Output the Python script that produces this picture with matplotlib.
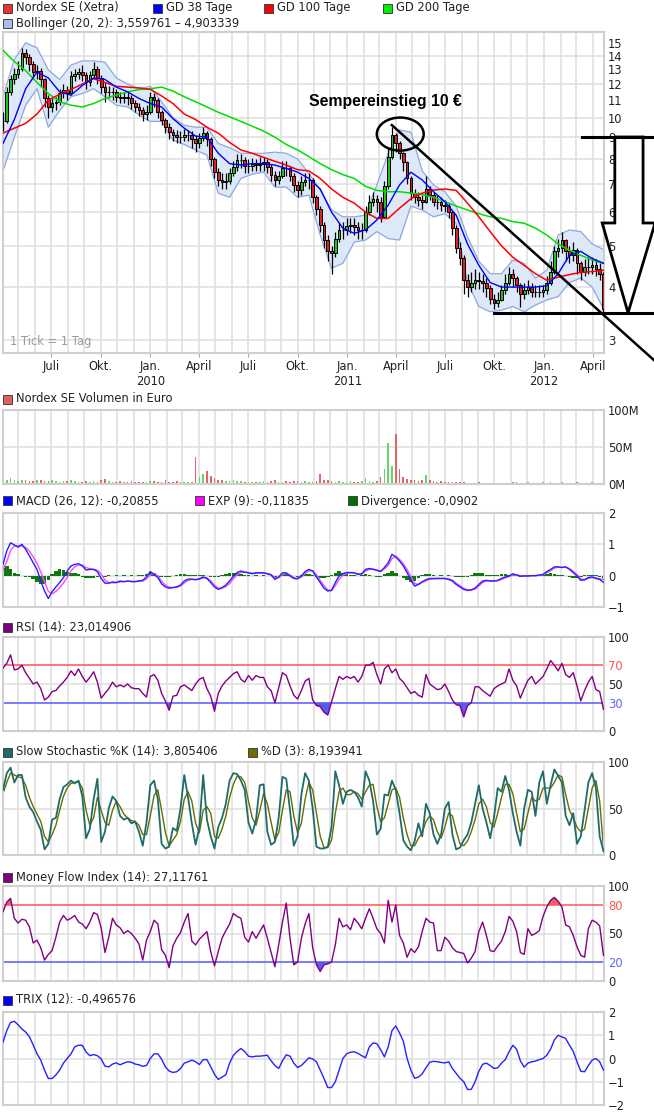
import matplotlib as mpl
mpl.use('Agg')
import matplotlib.pyplot as plt
import matplotlib.dates as mdates
from matplotlib.patches import Rectangle, Ellipse, Polygon
from matplotlib.ticker import FuncFormatter, NullLocator
import numpy as np
import pandas as pd

W, H = 654, 1116

# Nordex SE (Xetra), weekly closes Apr 2009 - Apr 2012
close = [9.8, 11.5, 12.3, 12.7, 13.0, 14.2, 13.9, 13.4, 12.8, 12.9,
         12.3, 11.1, 10.6, 10.8, 10.9, 11.4, 11.6, 11.4, 12.5, 12.7,
         12.8, 12.6, 12.1, 12.6, 13.0, 12.4, 11.8, 11.5, 11.5, 11.5,
         11.2, 11.1, 11.2, 11.1, 10.8, 10.6, 10.4, 10.2, 10.3, 11.2,
         11.0, 10.3, 9.9, 9.5, 9.25, 9.1, 9.0, 9.0, 9.1, 9.1,
         8.9, 8.7, 8.95, 9.2, 8.9, 8.0, 7.45, 7.14, 7.05, 7.1,
         7.4, 7.65, 7.95, 7.95, 7.7, 7.7, 7.8, 7.75, 7.8, 7.85,
         7.66, 7.35, 7.15, 7.3, 7.62, 7.6, 7.3, 6.95, 6.76, 7.05,
         7.15, 7.15, 6.5, 6.1, 5.6, 5.15, 4.85, 4.8, 5.2, 5.45,
         5.45, 5.58, 5.6, 5.55, 5.45, 5.45, 6.0, 6.35, 6.45, 6.35,
         5.85, 6.9, 8.1, 9.1, 8.7, 8.25, 7.85, 7.2, 6.65, 6.5,
         6.4, 6.35, 6.8, 6.6, 6.35, 6.35, 6.23, 6.2, 6.0, 5.5,
         4.95, 4.68, 4.15, 4.0, 4.1, 4.15, 4.13, 4.08, 3.97, 3.76,
         3.67, 3.73, 3.93, 4.1, 4.3, 4.2, 4.05, 3.85, 3.93, 4.0,
         3.9, 3.9, 3.9, 3.94, 4.1, 4.35, 4.85, 4.95, 5.15, 4.85,
         4.77, 4.88, 4.55, 4.33, 4.45, 4.45, 4.5, 4.42, 4.3, 3.56]
high = [10.3, 11.8, 12.6, 13.1, 13.6, 14.6, 14.5, 14.1, 13.6, 13.3,
        13.1, 12.4, 11.3, 11.1, 11.2, 11.7, 12.0, 11.9, 12.9, 13.0,
        13.1, 13.3, 12.8, 12.9, 13.5, 13.2, 12.6, 12.1, 11.9, 11.8,
        11.7, 11.5, 11.5, 11.5, 11.3, 11.0, 10.8, 10.6, 10.7, 11.5,
        11.4, 11.1, 10.4, 10.0, 9.7, 9.4, 9.35, 9.3, 9.4, 9.35,
        9.3, 9.1, 9.2, 9.5, 9.3, 9.0, 8.1, 7.6, 7.4, 7.4,
        7.6, 7.9, 8.2, 8.2, 8.1, 8.0, 8.05, 8.0, 8.1, 8.1,
        8.0, 7.8, 7.5, 7.5, 7.9, 7.9, 7.7, 7.4, 7.1, 7.3,
        7.4, 7.4, 7.2, 6.6, 6.2, 5.7, 5.3, 5.0, 5.4, 5.65,
        5.7, 5.8, 5.8, 5.8, 5.7, 5.65, 6.2, 6.6, 6.7, 6.6,
        6.5, 7.1, 8.5, 9.5, 9.2, 8.8, 8.3, 7.9, 7.3, 6.8,
        6.7, 6.6, 7.3, 6.9, 6.7, 6.6, 6.5, 6.4, 6.3, 6.05,
        5.6, 5.1, 4.75, 4.3, 4.35, 4.4, 4.35, 4.3, 4.2, 4.05,
        3.85, 3.9, 4.05, 4.3, 4.45, 4.4, 4.25, 4.1, 4.1, 4.15,
        4.1, 4.05, 4.05, 4.05, 4.25, 4.6, 5.0, 5.2, 5.4, 5.2,
        5.0, 5.1, 4.95, 4.6, 4.65, 4.7, 4.7, 4.65, 4.55, 4.35]
low = [9.3, 9.7, 11.3, 12.0, 12.4, 12.9, 13.4, 12.9, 12.3, 12.3,
       11.8, 10.6, 10.0, 10.3, 10.4, 10.7, 11.1, 11.0, 11.3, 12.2,
       12.3, 12.2, 11.7, 11.9, 12.4, 12.0, 11.4, 10.9, 11.1, 11.0,
       10.9, 10.8, 10.8, 10.7, 10.5, 10.3, 10.1, 9.8, 9.9, 10.2,
       10.6, 10.0, 9.6, 9.2, 8.9, 8.8, 8.7, 8.7, 8.8, 8.8,
       8.5, 8.3, 8.5, 8.8, 8.6, 7.7, 7.2, 6.9, 6.8, 6.8,
       7.0, 7.3, 7.5, 7.6, 7.4, 7.4, 7.5, 7.5, 7.5, 7.5,
       7.4, 7.1, 6.9, 7.0, 7.2, 7.3, 7.1, 6.7, 6.5, 6.6,
       6.9, 6.8, 6.3, 5.9, 5.4, 4.95, 4.6, 4.3, 4.7, 5.1,
       5.2, 5.3, 5.35, 5.3, 5.2, 5.2, 5.4, 5.9, 6.2, 6.0,
       5.7, 5.8, 6.8, 8.0, 8.3, 8.0, 7.5, 7.0, 6.4, 6.3,
       6.2, 6.1, 6.3, 6.4, 6.2, 6.1, 6.05, 6.0, 5.8, 5.3,
       4.8, 4.5, 3.85, 3.8, 3.9, 3.95, 3.95, 3.9, 3.8, 3.65,
       3.55, 3.6, 3.7, 3.85, 4.05, 4.0, 3.9, 3.6, 3.75, 3.85,
       3.8, 3.8, 3.8, 3.8, 3.85, 4.05, 4.3, 4.7, 4.8, 4.6,
       4.55, 4.6, 4.3, 4.15, 4.25, 4.3, 4.3, 4.25, 4.15, 3.5]

# moving averages and Bollinger band, read every third week
gd38 = [8.7, 9.9, 11.7, 12.8, 12.4, 11.5, 11.3, 11.9, 12.4, 12.3,
        11.8, 11.5, 11.1, 10.8, 10.6, 9.95, 9.45, 9.05, 9.0, 8.25,
        7.8, 7.74, 7.8, 7.8, 7.74, 7.6, 7.45, 7.2, 6.8, 6.0,
        5.5, 5.35, 5.45, 5.75, 6.23, 6.95, 7.45, 7.14, 6.7, 6.35,
        5.9, 5.05, 4.5, 4.1, 4.0, 4.0, 4.0, 4.0, 4.03, 4.3,
        4.75, 4.85, 4.67, 4.55]
gd100 = [9.2, 9.45, 9.7, 10.2, 11.0, 11.35, 11.65, 12.0, 12.35, 12.1,
         11.85, 11.8, 11.75, 11.65, 11.25, 10.8, 10.2, 9.9, 9.5, 9.2,
         8.75, 8.4, 8.25, 8.07, 7.9, 7.74, 7.55, 7.5, 7.2, 6.8,
         6.5, 6.3, 6.0, 5.8, 5.8, 6.13, 6.45, 6.65, 6.76, 6.8,
         6.75, 6.3, 5.85, 5.4, 5.0, 4.7, 4.5, 4.3, 4.15, 4.22,
         4.28, 4.33, 4.35, 4.38]
gd200 = [14.4, 13.55, 12.9, 12.1, 11.4, 10.9, 10.7, 10.6, 10.8, 11.1,
         11.3, 11.5, 11.65, 11.7, 11.8, 11.55, 11.2, 10.9, 10.6, 10.3,
         10.05, 9.8, 9.55, 9.3, 9.0, 8.65, 8.4, 8.1, 7.8, 7.55,
         7.35, 7.2, 6.9, 6.75, 6.7, 6.7, 6.65, 6.6, 6.5, 6.35,
         6.2, 6.07, 5.95, 5.85, 5.8, 5.7, 5.65, 5.5, 5.3, 5.05,
         4.88, 4.75, 4.63, 4.55]
boll_up = [11.2, 13.7, 15.0, 14.6, 12.95, 12.3, 13.3, 13.6, 13.6, 13.5,
           12.4, 12.0, 11.7, 11.85, 10.9, 10.0, 9.6, 9.5, 9.5, 8.7,
           8.5, 8.25, 8.25, 8.25, 8.3, 8.25, 8.0, 7.4, 6.76, 6.07,
           5.85, 5.85, 5.9, 6.95, 8.25, 9.36, 9.25, 7.5, 6.95, 6.7,
           6.2, 5.25, 4.6, 4.3, 4.3, 4.63, 4.55, 4.2, 4.38, 5.3,
           5.45, 5.4, 5.05, 4.9]
boll_lo = [7.5, 9.0, 10.7, 11.7, 9.5, 10.4, 11.2, 11.4, 11.7, 11.2,
           10.7, 10.6, 10.15, 9.8, 9.8, 8.86, 8.65, 8.4, 8.17, 6.65,
           6.5, 7.2, 7.37, 7.45, 6.87, 6.87, 6.5, 6.58, 5.3, 4.43,
           4.55, 5.1, 5.16, 5.4, 5.2, 5.16, 6.2, 6.07, 5.85, 5.95,
           5.65, 4.1, 3.6, 3.5, 3.53, 3.6, 3.5, 3.63, 3.73, 3.8,
           4.1, 4.2, 4.0, 3.56]

# volume in Mio. Euro
volume = [6, 5, 8, 5, 4, 6, 5, 4, 4, 5,
          5, 4, 4, 5, 4, 3, 4, 4, 5, 4,
          3, 3, 4, 3, 4, 3, 5, 7, 4, 3,
          3, 4, 3, 3, 4, 3, 3, 3, 3, 4,
          4, 3, 3, 5, 3, 3, 4, 3, 3, 3,
          3, 37, 10, 14, 18, 11, 8, 6, 5, 4,
          4, 5, 4, 4, 3, 3, 3, 3, 3, 4,
          3, 4, 6, 3, 3, 4, 3, 4, 4, 3,
          4, 3, 3, 4, 14, 6, 5, 4, 3, 4,
          3, 3, 4, 3, 3, 4, 8, 4, 3, 4,
          10, 20, 55, 25, 68, 20, 9, 7, 5, 5,
          4, 6, 12, 5, 4, 3, 4, 3, 3, 3,
          3, 3, 3, 2, 2, 2, 3, 2, 2, 2,
          2, 2, 2, 2, 2, 3, 3, 2, 2, 3,
          2, 2, 2, 3, 2, 3, 2, 2, 3, 2,
          2, 2, 3, 2, 2, 2, 3, 2, 2, 5]

macd = [0.36, 0.79, 1.05, 0.98, 0.91, 1.0, 0.84, 0.63, 0.41, 0.2,
        -0.17, -0.49, -0.73, -0.51, -0.36, -0.22, -0.06, 0.15, 0.31, 0.36,
        0.38, 0.31, 0.18, 0.2, 0.2, 0.13, -0.09, -0.24, -0.24, -0.2,
        -0.22, -0.17, -0.19, -0.17, -0.19, -0.19, -0.17, -0.15, -0.04, 0.13,
        0.04, -0.06, -0.26, -0.36, -0.4, -0.38, -0.36, -0.3, -0.17, -0.11,
        -0.11, -0.13, -0.1, -0.04, -0.09, -0.22, -0.36, -0.44, -0.38, -0.3,
        -0.17, -0.02, 0.1, 0.15, 0.11, 0.09, 0.06, 0.09, 0.09, 0.09,
        0.06, 0.02, -0.12, -0.04, 0.09, 0.09, -0.01, -0.09, -0.1, -0.01,
        0.13, 0.2, 0.15, -0.04, -0.22, -0.4, -0.49, -0.47, -0.22, -0.01,
        0.07, 0.1, 0.1, 0.09, 0.04, 0.06, 0.2, 0.23, 0.2, 0.17,
        0.13, 0.26, 0.41, 0.68, 0.6, 0.47, 0.31, 0.1, -0.15, -0.33,
        -0.28, -0.19, -0.13, -0.09, -0.09, -0.09, -0.09, -0.09, -0.12, -0.17,
        -0.28, -0.36, -0.44, -0.47, -0.45, -0.4, -0.28, -0.17, -0.15, -0.17,
        -0.17, -0.15, -0.09, -0.04, -0.01, 0.06, 0.02, -0.02, -0.01, -0.01,
        0.0, 0.0, 0.02, 0.04, 0.13, 0.2, 0.28, 0.28, 0.26, 0.28,
        0.2, 0.1, -0.01, -0.15, -0.13, -0.06, -0.04, -0.09, -0.12, -0.21]
macd_exp = [0.2, 0.45, 0.8, 0.95, 0.95, 0.95, 0.9, 0.78, 0.6, 0.4,
            0.12, -0.2, -0.5, -0.58, -0.5, -0.38, -0.24, -0.05, 0.15, 0.28,
            0.34, 0.34, 0.26, 0.22, 0.2, 0.17, 0.05, -0.14, -0.22, -0.23,
            -0.22, -0.2, -0.19, -0.18, -0.18, -0.19, -0.18, -0.17, -0.1, 0.02,
            0.07, 0.0, -0.18, -0.3, -0.37, -0.38, -0.37, -0.33, -0.23, -0.15,
            -0.12, -0.12, -0.12, -0.07, -0.07, -0.16, -0.3, -0.4, -0.4, -0.35,
            -0.25, -0.1, 0.03, 0.1, 0.12, 0.1, 0.08, 0.08, 0.09, 0.09,
            0.07, 0.04, -0.06, -0.07, 0.04, 0.07, 0.02, -0.06, -0.09, -0.05,
            0.07, 0.15, 0.16, 0.03, -0.15, -0.32, -0.45, -0.48, -0.32, -0.12,
            0.02, 0.07, 0.09, 0.09, 0.06, 0.05, 0.15, 0.2, 0.21, 0.18,
            0.15, 0.22, 0.33, 0.55, 0.62, 0.52, 0.38, 0.2, -0.02, -0.25,
            -0.28, -0.22, -0.16, -0.11, -0.1, -0.09, -0.09, -0.09, -0.1, -0.14,
            -0.24, -0.32, -0.4, -0.45, -0.46, -0.43, -0.33, -0.22, -0.17, -0.16,
            -0.17, -0.16, -0.12, -0.07, -0.03, 0.02, 0.03, 0.0, -0.01, -0.01,
            0.0, 0.0, 0.01, 0.03, 0.09, 0.16, 0.24, 0.27, 0.27, 0.27,
            0.23, 0.14, 0.03, -0.1, -0.13, -0.09, -0.06, -0.07, -0.1, -0.12]
divergence = [0.25, 0.3, 0.2, 0.1, 0.05, -0.02, -0.05, -0.05, -0.1, -0.2,
              -0.28, -0.25, -0.15, 0.05, 0.15, 0.2, 0.18, 0.12, 0.1, 0.08,
              0.05, -0.03, -0.07, -0.08, -0.06, -0.03, -0.02, -0.03, 0.02, -0.02,
              0.02, -0.02, 0.02, -0.02, 0.02, -0.02, 0.02, 0.01, 0.05, 0.12,
              0.08, -0.03, -0.05, -0.05, -0.03, -0.01, 0.02, 0.04, 0.05, 0.03,
              0.01, 0.02, 0.02, 0.02, -0.02, -0.05, -0.05, -0.03, 0.02, 0.06,
              0.1, 0.1, 0.08, 0.04, 0.01, 0.02, -0.02, 0.02, -0.02, 0.02,
              -0.02, -0.02, -0.06, -0.02, 0.04, 0.05, 0.02, -0.02, -0.03, 0.02,
              0.06, 0.06, 0.02, -0.04, -0.06, -0.07, -0.05, 0.02, 0.1, 0.15,
              0.1, 0.05, 0.02, 0.01, -0.02, 0.02, 0.04, 0.03, -0.02, -0.04,
              -0.03, 0.05, 0.1, 0.15, 0.1, 0.0, -0.08, -0.15, -0.2, -0.18,
              -0.08, 0.02, 0.05, 0.04, 0.02, -0.02, 0.02, -0.02, 0.02, -0.02,
              -0.03, -0.05, -0.05, -0.03, 0.03, 0.08, 0.1, 0.08, 0.03, 0.02,
              0.01, 0.03, 0.05, 0.05, 0.03, 0.02, -0.02, -0.03, 0.02, -0.02,
              0.02, -0.02, 0.02, 0.02, 0.05, 0.07, 0.06, 0.03, 0.02, -0.02,
              -0.04, -0.07, -0.07, -0.05, 0.02, 0.03, 0.03, 0.02, -0.05, -0.09]

rsi = [67, 72, 81, 65, 66, 70, 62, 56, 50, 52,
       45, 33, 36, 42, 43, 48, 52, 57, 64, 59,
       66, 58, 52, 57, 63, 52, 35, 40, 45, 52,
       47, 49, 47, 50, 46, 45, 45, 40, 36, 58,
       60, 54, 40, 32, 22, 37, 38, 47, 49, 46,
       43, 50, 55, 57, 45, 37, 21, 40, 48, 53,
       57, 61, 63, 55, 52, 59, 54, 59, 57, 57,
       47, 43, 30, 46, 62, 59, 48, 38, 34, 43,
       53, 56, 33, 27, 26, 20, 17, 31, 45, 58,
       55, 58, 56, 58, 52, 58, 70, 70, 73, 60,
       50, 66, 70, 62, 66, 56, 52, 46, 40, 42,
       38, 36, 60, 50, 47, 44, 45, 50, 42, 33,
       28, 27, 15, 27, 30, 47, 47, 43, 40, 37,
       45, 48, 50, 52, 66, 54, 48, 35, 45, 54,
       58, 50, 54, 58, 66, 75, 70, 64, 72, 60,
       57, 62, 48, 32, 43, 52, 58, 44, 42, 23]

stoch_k = [70, 88, 94, 78, 86, 86, 62, 52, 46, 36,
           27, 6, 12, 38, 40, 60, 73, 76, 80, 77,
           80, 63, 18, 28, 60, 82, 14, 25, 50, 63,
           58, 42, 38, 40, 34, 36, 25, 10, 35, 75,
           80, 60, 12, 7, 9, 29, 26, 50, 86, 62,
           34, 11, 30, 86, 38, 20, 7, 30, 40, 55,
           80, 88, 87, 80, 70, 35, 23, 38, 75, 76,
           25, 11, 14, 40, 84, 82, 48, 10, 20, 65,
           88, 80, 50, 9, 7, 7, 9, 30, 90, 75,
           55, 68, 70, 68, 62, 52, 90, 80, 58, 22,
           28, 65, 64, 80, 70, 45, 16, 9, 5, 15,
           34, 20, 55, 45, 22, 12, 22, 50, 57, 22,
           6, 8, 16, 22, 35, 55, 75, 50, 35, 18,
           40, 72, 68, 85, 70, 45, 25, 10, 50, 70,
           68, 42, 78, 90, 55, 75, 92, 85, 78, 42,
           32, 45, 12, 20, 48, 78, 88, 72, 20, 4]
stoch_d = [66, 78, 88, 86, 84, 83, 75, 62, 52, 44,
           36, 20, 14, 22, 32, 48, 63, 72, 77, 78,
           79, 72, 48, 32, 40, 62, 48, 35, 32, 48,
           58, 52, 44, 40, 37, 36, 32, 22, 22, 42,
           64, 70, 48, 24, 10, 16, 22, 36, 60, 68,
           58, 34, 24, 48, 52, 45, 20, 18, 28, 42,
           62, 76, 85, 84, 78, 58, 40, 32, 48, 66,
           55, 35, 16, 24, 48, 70, 68, 42, 24, 34,
           60, 78, 70, 45, 20, 8, 8, 16, 45, 68,
           72, 65, 65, 68, 66, 60, 68, 75, 76, 52,
           36, 40, 55, 70, 72, 62, 40, 22, 10, 10,
           18, 24, 36, 42, 38, 25, 18, 30, 45, 42,
           26, 12, 10, 15, 25, 38, 55, 60, 52, 35,
           30, 45, 62, 76, 76, 66, 45, 25, 28, 45,
           62, 58, 60, 72, 72, 72, 78, 86, 84, 65,
           48, 40, 30, 25, 28, 50, 72, 80, 58, 8]

mfi = [73, 83, 87, 66, 61, 65, 64, 57, 40, 43,
       35, 22, 28, 32, 46, 62, 69, 64, 66, 69,
       62, 60, 55, 62, 72, 70, 56, 30, 46, 66,
       59, 56, 50, 53, 50, 45, 39, 22, 43, 52,
       64, 60, 33, 27, 14, 37, 45, 51, 62, 71,
       42, 38, 44, 48, 52, 31, 16, 31, 45, 53,
       60, 71, 68, 66, 46, 41, 52, 45, 52, 59,
       45, 30, 15, 38, 62, 82, 45, 17, 20, 45,
       60, 71, 35, 17, 10, 17, 18, 20, 38, 66,
       57, 59, 54, 66, 61, 55, 66, 76, 66, 55,
       50, 40, 85, 62, 80, 48, 40, 25, 34, 30,
       36, 52, 66, 62, 61, 32, 32, 46, 42, 35,
       31, 30, 29, 19, 24, 31, 52, 62, 48, 32,
       31, 37, 42, 52, 68, 63, 52, 30, 28, 55,
       48, 50, 53, 68, 78, 85, 88, 84, 78, 59,
       57, 48, 36, 27, 25, 55, 64, 62, 58, 27]

trix = [0.7, 1.2, 1.55, 1.6, 1.45, 1.27, 1.14, 0.93, 0.58, 0.2,
        -0.07, -0.5, -0.86, -0.86, -0.71, -0.5, -0.2, 0.0, 0.2, 0.5,
        0.57, 0.57, 0.28, 0.12, 0.17, 0.12, -0.02, -0.33, -0.36, -0.24,
        -0.19, -0.27, -0.2, -0.14, -0.16, -0.24, -0.27, -0.34, -0.3, 0.0,
        0.2, 0.2, -0.03, -0.36, -0.54, -0.6, -0.57, -0.43, -0.2, -0.14,
        -0.07, -0.14, -0.26, -0.05, -0.05, -0.35, -0.68, -0.9, -0.8, -0.7,
        -0.2, 0.13, 0.3, 0.43, 0.3, 0.1, 0.07, 0.1, 0.1, 0.12,
        0.14, -0.1, -0.3, -0.43, -0.1, 0.16, 0.1, -0.2, -0.39, -0.3,
        -0.14, 0.03, -0.02, -0.14, -0.5, -0.86, -1.25, -1.25, -1.0, -0.5,
        0.0, 0.2, 0.27, 0.29, 0.22, 0.12, 0.03, 0.5, 0.67, 0.64,
        0.38, 0.07, 0.5, 1.2, 1.4, 1.1, 0.75, 0.0, -0.5, -0.85,
        -0.8, -0.66, -0.4, -0.16, -0.12, -0.14, -0.17, -0.19, -0.14, -0.43,
        -0.64, -0.85, -1.0, -1.33, -1.33, -1.0, -0.55, -0.25, -0.2, -0.3,
        -0.43, -0.4, -0.2, -0.05, 0.29, 0.57, 0.4, -0.1, -0.37, -0.2,
        -0.14, -0.11, -0.05, 0.0, 0.14, 0.4, 0.8, 1.0, 0.93, 0.86,
        0.57, 0.3, -0.14, -0.55, -0.57, -0.3, -0.07, 0.0, -0.14, -0.5]

weeks = pd.date_range('2009-04-03', periods=len(close), freq='7D')
ma_weeks = weeks[::3]
x0, x1 = pd.Timestamp('2009-04-03'), pd.Timestamp('2012-04-21')

GRID = '#dedede'
FS = 8.3
MONTHS = {1: 'Jan.', 4: 'April', 7: 'Juli', 10: 'Okt.'}

fig = plt.figure(figsize=(W / 100, H / 100), dpi=100)


def add_panel(top, bottom, yticks, ylim, hlines):
    ax = fig.add_axes([3 / W, 1 - bottom / H, 601 / W, (bottom - top) / H])
    for s in ax.spines.values():
        s.set_color('#cfcfcf')
        s.set_linewidth(1.5)
    ax.set_xlim(x0, x1)
    ax.xaxis.set_major_locator(mdates.MonthLocator(bymonth=[1, 4, 7, 10]))
    ax.xaxis.set_minor_locator(mdates.MonthLocator())
    ax.grid(True, which='both', axis='x', color=GRID, lw=1.1)
    ax.set_axisbelow(True)
    ax.yaxis.tick_right()
    ax.set_yticks(yticks)
    ax.yaxis.set_minor_locator(NullLocator())
    ax.set_ylim(*ylim)
    for v in hlines:
        ax.axhline(v, color=GRID, lw=1.1, zorder=0.5)
    ax.tick_params(axis='y', length=0, pad=3, labelsize=FS, colors='#222222')
    ax.tick_params(axis='x', which='both', length=0, labelbottom=False)
    return ax


def legend_item(x, y, color, label):
    fig.add_artist(Rectangle((x / W, 1 - (y + 4.5) / H), 9 / W, 9 / H,
                             transform=fig.transFigure, facecolor=color,
                             edgecolor='#444444', lw=0.7))
    fig.text((x + 13) / W, 1 - y / H, label, va='center', ha='left',
             fontsize=FS, color='#222222')


# ---- price panel
ax = add_panel(32, 353, list(range(3, 16)), (2.8, 15.9), [])
ax.set_yscale('log')
ax.set_yticks(list(range(3, 16)))
ax.set_yticklabels([str(v) for v in range(3, 16)])
ax.yaxis.set_minor_locator(NullLocator())
ax.set_ylim(2.8, 15.9)
for v in [3, 4, 5, 6, 7, 8, 9, 10, 12, 14]:
    ax.axhline(v, color=GRID, lw=1.1, zorder=0.5)

ax.fill_between(ma_weeks, boll_lo, boll_up, color='#dde8f8', lw=0, zorder=1)
ax.plot(ma_weeks, boll_up, color='#8ea8df', lw=0.9, zorder=2)
ax.plot(ma_weeks, boll_lo, color='#8ea8df', lw=0.9, zorder=2)

c = np.array(close)
o = np.r_[c[0], c[:-1]]
up = c >= o
ax.vlines(weeks, low, high, color='black', lw=0.9, zorder=3)
ax.bar(weeks, np.maximum(c, o) - np.minimum(c, o), bottom=np.minimum(c, o),
       width=5, color=np.where(up, '#22c022', '#e02020'),
       edgecolor='black', linewidth=0.7, zorder=3.5)

ax.plot(ma_weeks, gd200, color='#00dd00', lw=1.1, zorder=4)
ax.plot(ma_weeks, gd100, color='#ff0000', lw=1.1, zorder=4)
ax.plot(ma_weeks, gd38, color='#0000ff', lw=1.0, zorder=4)

ax.xaxis.set_major_formatter(FuncFormatter(
    lambda v, p: MONTHS[mdates.num2date(v).month]
    + ('\n%d' % mdates.num2date(v).year if mdates.num2date(v).month == 1 else '')))
ax.tick_params(axis='x', which='major', length=3, color='#aaaaaa',
               labelbottom=True, labelsize=FS, labelcolor='#222222', pad=2)
ax.text(0.012, 0.035, '1 Tick = 1 Tag', transform=ax.transAxes,
        fontsize=FS, color='#9a9a9a', va='center')

# hand drawn annotation
ax.text(0.637, 0.782, 'Sempereinstieg 10 €', transform=ax.transAxes,
        ha='center', va='center', fontsize=11.3, fontweight='bold',
        family='Liberation Sans', color='black', zorder=6)
ax.add_patch(Ellipse((0.661, 0.682), 0.078, 0.103, transform=ax.transAxes,
                     fill=False, ec='black', lw=1.8, clip_on=False, zorder=6))
kw = dict(transform=ax.transAxes, color='black', clip_on=False, zorder=6)
ax.plot([0.647, 1.083], [0.710, -0.022], lw=1.8, **kw)
ax.plot([0.817, 1.083], [0.125, 0.125], lw=2.2, **kw)
ax.plot([0.963, 1.083], [0.673, 0.673], lw=2.2, **kw)
ax.add_patch(Polygon([(1.018, 0.673), (1.018, 0.405), (0.997, 0.405),
                      (1.040, 0.125), (1.085, 0.405), (1.065, 0.405),
                      (1.065, 0.673)], closed=True, fill=False, ec='black',
                     lw=2.0, transform=ax.transAxes, clip_on=False, zorder=6))

legend_item(3, 8, '#e83030', 'Nordex SE (Xetra)')
legend_item(153, 8, '#0000ff', 'GD 38 Tage')
legend_item(264, 8, '#ff0000', 'GD 100 Tage')
legend_item(383, 8, '#00ee00', 'GD 200 Tage')
legend_item(3, 23, '#a9bde6', 'Bollinger (20, 2): 3,559761 – 4,903339')

# ---- volume
axv = add_panel(410, 484, [0, 50, 100], (0, 100), [50])
axv.set_yticklabels(['0M', '50M', '100M'])
vcol = np.where(up, '#66d466', '#e46464')
axv.bar(weeks, volume, width=3.0, color=vcol, lw=0, zorder=2)
legend_item(3, 399, '#e06060', 'Nordex SE Volumen in Euro')

# ---- MACD
axm = add_panel(513, 607, [-1, 0, 1, 2], (-1, 2), [0, 1])
axm.bar(weeks, divergence, width=6.5, color='#117711', lw=0, zorder=2)
axm.plot(weeks, macd_exp, color='#ff44ff', lw=1.0, zorder=3)
axm.plot(weeks, macd, color='#2222ff', lw=1.0, zorder=4)
legend_item(3, 501, '#0000ff', 'MACD (26, 12): -0,20855')
legend_item(195, 501, '#ff00ff', 'EXP (9): -0,11835')
legend_item(348, 501, '#007000', 'Divergence: -0,0902')

# ---- RSI
axr = add_panel(637, 731, [0, 30, 50, 70, 100], (0, 100), [50])
axr.axhline(70, color='#ff6060', lw=1.2, zorder=1)
axr.axhline(30, color='#6464ff', lw=1.2, zorder=1)
r = np.array(rsi, dtype=float)
axr.fill_between(weeks, r, 30, where=r < 30, interpolate=True,
                 color='#5a5aee', lw=0, zorder=2)
axr.plot(weeks, r, color='#800080', lw=1.0, zorder=3)
lab = axr.get_yticklabels()
lab[1].set_color('#6464ff')
lab[3].set_color('#ff5050')
legend_item(3, 627, '#800080', 'RSI (14): 23,014906')

# ---- Slow Stochastic
axs = add_panel(762, 855, [0, 50, 100], (0, 100), [50])
axs.plot(weeks, stoch_d, color='#6b6b00', lw=1.0, zorder=2)
axs.plot(weeks, stoch_k, color='#1f6b6b', lw=1.3, zorder=3)
legend_item(3, 752, '#1f6b6b', 'Slow Stochastic %K (14): 3,805406')
legend_item(248, 752, '#707000', '%D (3): 8,193941')

# ---- Money Flow Index
axf = add_panel(886, 981, [0, 20, 50, 80, 100], (0, 100), [50])
axf.axhline(80, color='#ff6060', lw=1.2, zorder=1)
axf.axhline(20, color='#6464ff', lw=1.2, zorder=1)
f = np.array(mfi, dtype=float)
axf.fill_between(weeks, f, 80, where=f > 80, interpolate=True,
                 color='#f06060', lw=0, zorder=2)
axf.fill_between(weeks, f, 20, where=f < 20, interpolate=True,
                 color='#5a5aee', lw=0, zorder=2)
axf.plot(weeks, f, color='#800080', lw=1.0, zorder=3)
lab = axf.get_yticklabels()
lab[1].set_color('#6464ff')
lab[3].set_color('#ff5050')
legend_item(3, 877, '#800080', 'Money Flow Index (14): 27,11761')

# ---- TRIX
axt = add_panel(1012, 1105, [-2, -1, 0, 1, 2], (-2, 2), [-1, 0, 1])
axt.plot(weeks, trix, color='#2222ff', lw=1.0, zorder=3)
legend_item(3, 1000, '#0000ff', 'TRIX (12): -0,496576')

fig.savefig('out.png', dpi=100)
